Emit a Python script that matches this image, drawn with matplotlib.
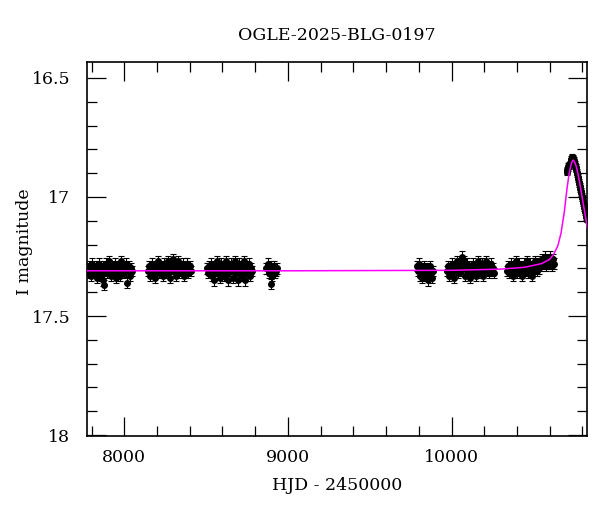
import matplotlib
matplotlib.use("Agg")
import matplotlib.pyplot as plt
from matplotlib.ticker import MultipleLocator

plt.rcParams['font.family'] = ['DejaVu Serif']
plt.rcParams['mathtext.fontset'] = 'dejavuserif'

title = "OGLE-2025-BLG-0197"
xlabel = "HJD - 2450000"
ylabel = "I magnitude"

# Season 1
s1_t = [7776, 7781, 7787, 7792, 7798, 7803, 7809, 7815, 7820, 7826, 7832, 7838, 7843, 7849, 7855,
        7861, 7867, 7872, 7878, 7884, 7890, 7896, 7902, 7908, 7914, 7920, 7926, 7932, 7938, 7944,
        7950, 7956, 7962, 7968, 7974, 7980, 7986, 7992, 7998, 8004, 8010, 8016, 8022, 8028, 8034,
        8040, 8046]
s1_m = [17.30, 17.32, 17.29, 17.31, 17.33, 17.28, 17.30, 17.32, 17.31, 17.29, 17.34, 17.30, 17.28,
        17.31, 17.33, 17.30, 17.35, 17.29, 17.37, 17.31, 17.28, 17.32, 17.30, 17.27, 17.31, 17.33,
        17.29, 17.30, 17.32, 17.28, 17.34, 17.31, 17.29, 17.30, 17.33, 17.27, 17.31, 17.29, 17.32,
        17.30, 17.28, 17.36, 17.31, 17.29, 17.33, 17.30, 17.31]
# Season 2
s2_t = [8147, 8153, 8159, 8165, 8171, 8177, 8183, 8189, 8195, 8201, 8207, 8213, 8219, 8225, 8231,
        8237, 8243, 8249, 8255, 8261, 8267, 8273, 8279, 8285, 8291, 8296, 8302, 8308, 8314, 8320,
        8326, 8332, 8338, 8344, 8350, 8356, 8362, 8368, 8374, 8380, 8386, 8392, 8398, 8404, 8410]
s2_m = [17.31, 17.29, 17.33, 17.30, 17.28, 17.32, 17.31, 17.34, 17.29, 17.30, 17.27, 17.32, 17.30,
        17.29, 17.31, 17.33, 17.28, 17.30, 17.32, 17.29, 17.27, 17.31, 17.34, 17.30, 17.28, 17.26,
        17.31, 17.29, 17.33, 17.30, 17.27, 17.32, 17.29, 17.31, 17.30, 17.28, 17.33, 17.30, 17.29,
        17.31, 17.28, 17.32, 17.30, 17.29, 17.31]
# Season 3
s3_t = [8507, 8513, 8519, 8525, 8531, 8537, 8543, 8549, 8555, 8561, 8567, 8573, 8579, 8585, 8591,
        8597, 8603, 8609, 8615, 8621, 8627, 8633, 8639, 8645, 8651, 8657, 8663, 8669, 8675, 8681,
        8687, 8693, 8699, 8705, 8711, 8717, 8723, 8729, 8735, 8741, 8747, 8753, 8759, 8765, 8771,
        8777, 8783]
s3_m = [17.30, 17.32, 17.29, 17.31, 17.28, 17.33, 17.30, 17.35, 17.29, 17.31, 17.27, 17.32, 17.30,
        17.34, 17.28, 17.31, 17.29, 17.33, 17.30, 17.27, 17.32, 17.35, 17.29, 17.31, 17.28, 17.30,
        17.34, 17.29, 17.27, 17.32, 17.30, 17.35, 17.28, 17.31, 17.29, 17.33, 17.30, 17.27, 17.35,
        17.31, 17.29, 17.32, 17.30, 17.28, 17.33, 17.30, 17.31]
# Season 4
s4_t = [8869, 8876, 8882, 8888, 8894, 8899, 8905, 8911, 8918, 8924, 8930, 8936]
s4_m = [17.30, 17.28, 17.32, 17.31, 17.29, 17.365, 17.33, 17.30, 17.29, 17.32, 17.31, 17.30]
# Season 5
s5_t = [9790, 9796, 9802, 9808, 9814, 9820, 9826, 9832, 9838, 9844, 9850, 9856, 9862, 9868, 9874,
        9880, 9885]
s5_m = [17.29, 17.31, 17.28, 17.33, 17.30, 17.34, 17.32, 17.29, 17.31, 17.33, 17.30, 17.35, 17.31,
        17.29, 17.32, 17.34, 17.31]
# Season 6
s6_t = [9973, 9979, 9985, 9991, 9997, 10003, 10009, 10015, 10021, 10027, 10033, 10039, 10045,
        10051, 10057, 10063, 10069, 10075, 10081, 10087, 10093, 10099, 10105, 10111, 10117, 10123,
        10129, 10135, 10141, 10147, 10153, 10159, 10165, 10171, 10177, 10183, 10189, 10195, 10201,
        10207, 10213, 10219, 10225, 10231, 10237, 10243, 10249, 10255, 10261]
s6_m = [17.31, 17.29, 17.33, 17.30, 17.32, 17.28, 17.31, 17.34, 17.29, 17.30, 17.27, 17.32, 17.30,
        17.28, 17.31, 17.25, 17.29, 17.27, 17.33, 17.30, 17.28, 17.31, 17.29, 17.34, 17.30, 17.32,
        17.28, 17.31, 17.29, 17.33, 17.30, 17.27, 17.32, 17.30, 17.29, 17.31, 17.28, 17.33, 17.30,
        17.29, 17.27, 17.31, 17.30, 17.32, 17.29, 17.28, 17.31, 17.30, 17.32]
# Season 7
s7_t = [10339, 10345, 10351, 10357, 10363, 10369, 10375, 10381, 10387, 10393, 10399, 10405, 10411,
        10417, 10423, 10429, 10435, 10441, 10447, 10453, 10459, 10465, 10471, 10477, 10483, 10489,
        10495, 10501, 10507, 10513, 10519, 10525, 10531, 10537, 10543, 10549, 10555, 10561, 10567,
        10573, 10579, 10585, 10591, 10597, 10603, 10609, 10615, 10621, 10627]
s7_m = [17.31, 17.29, 17.32, 17.30, 17.28, 17.31, 17.33, 17.29, 17.30, 17.27, 17.32, 17.30, 17.28,
        17.31, 17.29, 17.33, 17.30, 17.28, 17.31, 17.29, 17.27, 17.32, 17.30, 17.28, 17.29, 17.31,
        17.33, 17.28, 17.30, 17.27, 17.29, 17.31, 17.28, 17.30, 17.27, 17.29, 17.26, 17.28, 17.27,
        17.25, 17.29, 17.27, 17.26, 17.28, 17.25, 17.27, 17.29, 17.26, 17.28]
# Season 8 (event)
s8_t = [10704, 10706, 10708, 10710, 10713, 10716, 10720, 10724, 10728, 10732, 10736, 10739, 10742,
        10745, 10748, 10751, 10754, 10757, 10760, 10763, 10766, 10769, 10772, 10775, 10778, 10781,
        10784, 10787, 10790, 10793, 10796, 10799, 10802, 10805, 10808, 10811, 10814, 10817, 10820,
        10823, 10826]
s8_m = [16.89, 16.885, 16.895, 16.88, 16.87, 16.87, 16.865, 16.86, 16.85, 16.84, 16.835, 16.83,
        16.835, 16.84, 16.845, 16.855, 16.86, 16.87, 16.875, 16.885, 16.895, 16.905, 16.915, 16.925,
        16.935, 16.945, 16.955, 16.965, 16.975, 16.985, 16.995, 17.005, 17.015, 17.025, 17.035,
        17.045, 17.055, 17.065, 17.075, 17.085, 17.095]

base_err = 0.022
peak_err = 0.012

# Model curve
model_t = [7700, 9000, 10000, 10300, 10450, 10550, 10600, 10625, 10650, 10670, 10690, 10705, 10715,
           10725, 10735, 10743, 10752, 10762, 10772, 10782, 10792, 10802, 10812, 10822, 10830]
model_m = [17.31, 17.31, 17.308, 17.303, 17.295, 17.28, 17.262, 17.24, 17.205, 17.15, 17.06, 16.97,
           16.92, 16.88, 16.855, 16.845, 16.852, 16.87, 16.90, 16.935, 16.975, 17.015, 17.055,
           17.095, 17.13]

fig = plt.figure(figsize=(6.0, 5.12), dpi=100)
ax = fig.add_axes([0.145, 0.1484, 0.833, 0.7305])

for t, m in [(s1_t, s1_m), (s2_t, s2_m), (s3_t, s3_m), (s4_t, s4_m), (s5_t, s5_m),
             (s6_t, s6_m), (s7_t, s7_m)]:
    ax.errorbar(t, m, yerr=base_err, fmt='o', color='black', ms=4, elinewidth=0.8,
                capsize=2.5, capthick=0.8, zorder=2)
ax.errorbar(s8_t, s8_m, yerr=peak_err, fmt='o', color='black', ms=4, elinewidth=0.8,
            capsize=2.5, capthick=0.8, zorder=2)

ax.plot(model_t, model_m, color='#ff00ff', lw=1.1, zorder=3)

ax.set_xlim(7772, 10827)
ax.set_ylim(18.004, 16.433)

ax.xaxis.set_major_locator(MultipleLocator(1000))
ax.xaxis.set_minor_locator(MultipleLocator(200))
ax.yaxis.set_minor_locator(MultipleLocator(0.1))
ax.set_yticks([16.5, 17.0, 17.5, 18.0])
ax.set_yticklabels(['16.5', '17', '17.5', '18'])

ax.tick_params(which='both', direction='in', top=True, right=True, labelsize=12.5)
ax.tick_params(which='major', length=14, width=0.9, pad=9)
ax.tick_params(axis='y', which='major', pad=12)
ax.tick_params(which='minor', length=7, width=0.9)
for sp in ax.spines.values():
    sp.set_linewidth(1.2)

ax.set_xlabel(xlabel, fontsize=12.5, labelpad=8)
ax.set_ylabel(ylabel, fontsize=12.5)
ax.yaxis.set_label_coords(-0.108, 0.52)
ax.set_title(title, fontsize=12.5, pad=16)

fig.savefig("out.png", dpi=100)
